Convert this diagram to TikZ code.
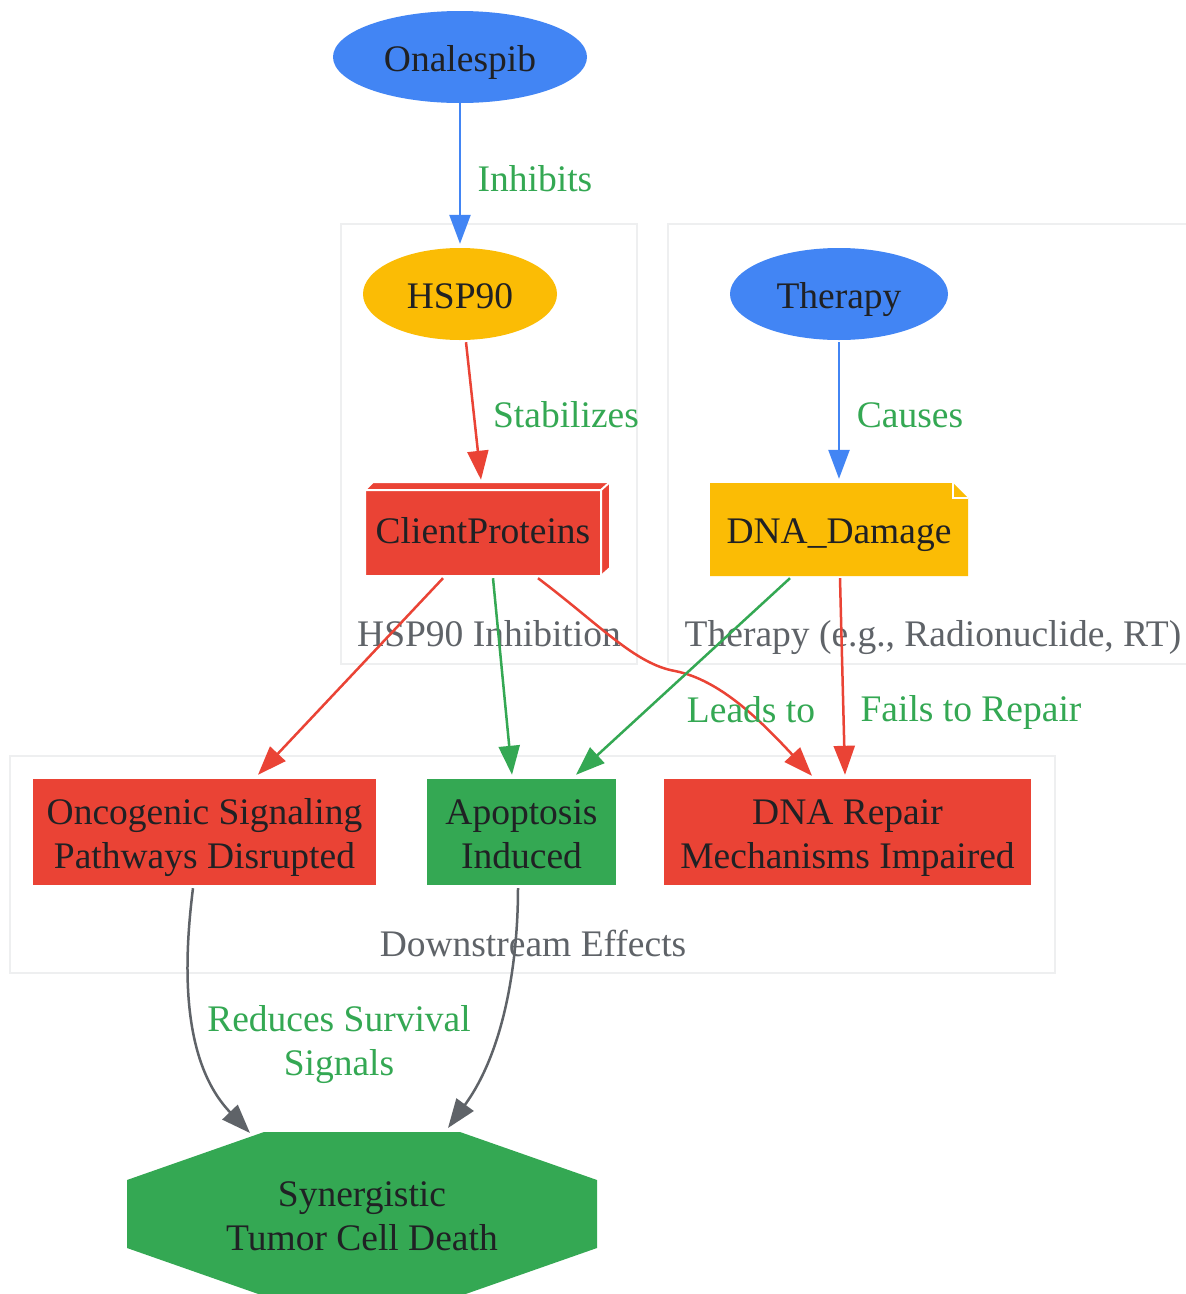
\documentclass[tikz,border=0pt]{standalone}
\usepackage{fontspec}
\setmainfont{Liberation Serif}
\usetikzlibrary{arrows.meta,shapes.geometric}
\definecolor{gblue}{HTML}{4285F4}
\definecolor{gyellow}{HTML}{FBBC05}
\definecolor{gred}{HTML}{EA4335}
\definecolor{ggreen}{HTML}{34A853}
\definecolor{ggray}{HTML}{5F6368}
\definecolor{gtext}{HTML}{202124}
\definecolor{gclus}{HTML}{EEEFF0}
\tikzset{
  txt/.style={text height=28pt, text depth=0pt},
  twolines/.style={text height=72pt, text depth=0pt},
  ell/.style={ellipse, inner sep=0pt, text=gtext, txt},
  boxnode/.style={rectangle, inner sep=0pt, text=gtext, align=center, txt},
  clus/.style={draw=gclus, line width=2pt},
  cltext/.style={text=ggray, txt},
  lbl/.style={text=ggreen, align=center, txt},
  edge/.style={line width=2.5pt, -{Triangle[length=29pt,width=21pt]}},
}
\begin{document}
\begin{tikzpicture}[x=1pt,y=-1pt,font=\fontsize{37.5}{44}\selectfont]
\useasboundingbox (0,0) rectangle (1186,1294);
\fill[white] (0,0) rectangle (1186,1294);
% clusters
\draw[clus] (341,224) rectangle (637,664);
\draw[clus] (668,224) rectangle (1200,664);
\draw[clus] (10,756) rectangle (1055,973);
\node[cltext] (cl1) at (489,632) {HSP90 Inhibition};
\node[cltext] (cl2) at (933,632) {Therapy (e.g., Radionuclide, RT)};
\node[cltext] (cl3) at (533,942) {Downstream Effects};
% nodes
\node[ell, fill=gblue, minimum width=254pt, minimum height=92pt] (ona) at (460,57) {Onalespib};
\node[ell, fill=gyellow, minimum width=194pt, minimum height=92pt] (hsp) at (460,294) {HSP90};
\node[ell, fill=gblue, minimum width=218pt, minimum height=92pt] (ther) at (839,294) {Therapy};
% ClientProteins box3d
\fill[gred] (365,490) -- (373,482) -- (610,482) -- (610,568) -- (601,576) -- (365,576) -- cycle;
\draw[white, line width=2pt, line join=round] (365,490) -- (373,482) -- (610,482) -- (610,568) -- (601,576) -- (365,576) -- cycle;
\draw[white, line width=2pt] (365,490) -- (601,490) -- (601,576) (601,490) -- (610,482);
\node[boxnode, text depth=7pt, minimum width=236pt, minimum height=86pt] (cp) at (483,533) {ClientProteins};
% DNA_Damage note
\fill[gyellow] (710,483) -- (953,483) -- (968,498) -- (968,576) -- (710,576) -- cycle;
\draw[white, line width=2pt] (953,483) -- (953,498) -- (968,498);
\node[boxnode, minimum width=258pt, minimum height=93pt] (dna) at (839,529.5) {DNA\_Damage};
% downstream
\node[boxnode, twolines, fill=gred, minimum width=343pt, minimum height=106pt] (onc) at (204.5,832) {Oncogenic Signaling\\Pathways Disrupted};
\node[boxnode, twolines, fill=ggreen, minimum width=189pt, minimum height=106pt] (apo) at (521.5,832) {Apoptosis\\Induced};
\node[boxnode, twolines, fill=gred, minimum width=367pt, minimum height=106pt] (rep) at (847.5,832) {DNA Repair\\Mechanisms Impaired};
% octagon
\fill[ggreen] (264,1132) -- (460,1132) -- (597,1180) -- (597,1248) -- (460,1296) -- (264,1296) -- (127,1248) -- (127,1180) -- cycle;
\node[boxnode, twolines] (syn) at (362,1214) {Synergistic\\Tumor Cell Death};
\coordinate (synL) at (250,1133);
\coordinate (synR) at (448,1128);
% edges
\draw[edge, gblue] (ona.south) -- ([yshift=4pt]hsp.north);
\draw[edge, gred] ([xshift=6pt,yshift=-2pt]hsp.south) -- ([xshift=-2pt,yshift=10pt]cp.north);
\draw[edge, gblue] ([yshift=-2pt]ther.south) -- ([yshift=4pt]dna.north);
\draw[edge, gred] ([xshift=-40pt,yshift=-2pt]cp.south) -- ([xshift=53.5pt,yshift=4pt]onc.north);
\draw[edge, ggreen] ([xshift=10pt,yshift=-2pt]cp.south) -- ([xshift=-9.5pt,yshift=4pt]apo.north);
\draw[edge, gred] ([xshift=55pt,yshift=-2pt]cp.south) .. controls (600,625) and (635,664) .. (675,671) .. controls (720,680) and (760,720) .. ([xshift=-35.5pt,yshift=3pt]rep.north);
\draw[edge, ggreen] ([xshift=-49pt,yshift=-2pt]dna.south) -- ([xshift=54.5pt,yshift=4pt]apo.north);
\draw[edge, gred] ([xshift=1pt,yshift=-2pt]dna.south) -- ([xshift=-2.5pt,yshift=4pt]rep.north);
\draw[edge, ggray] ([xshift=-11.5pt,yshift=-3pt]onc.south) .. controls (184,960) and (180,1060) .. (synL);
\draw[edge, ggray] ([xshift=-3.5pt,yshift=-3pt]apo.south) .. controls (518,960) and (505,1050) .. (synR);
% labels
\node[lbl] (l1) at (535,177) {Inhibits};
\node[lbl] (l2) at (566,413) {Stabilizes};
\node[lbl] (l3) at (910,413) {Causes};
\node[lbl] (l4) at (751,708) {Leads to};
\node[lbl] (l5) at (971,707) {Fails to Repair};
\node[lbl, twolines] (l6) at (339,1039) {Reduces Survival\\Signals};
\end{tikzpicture}
\end{document}
